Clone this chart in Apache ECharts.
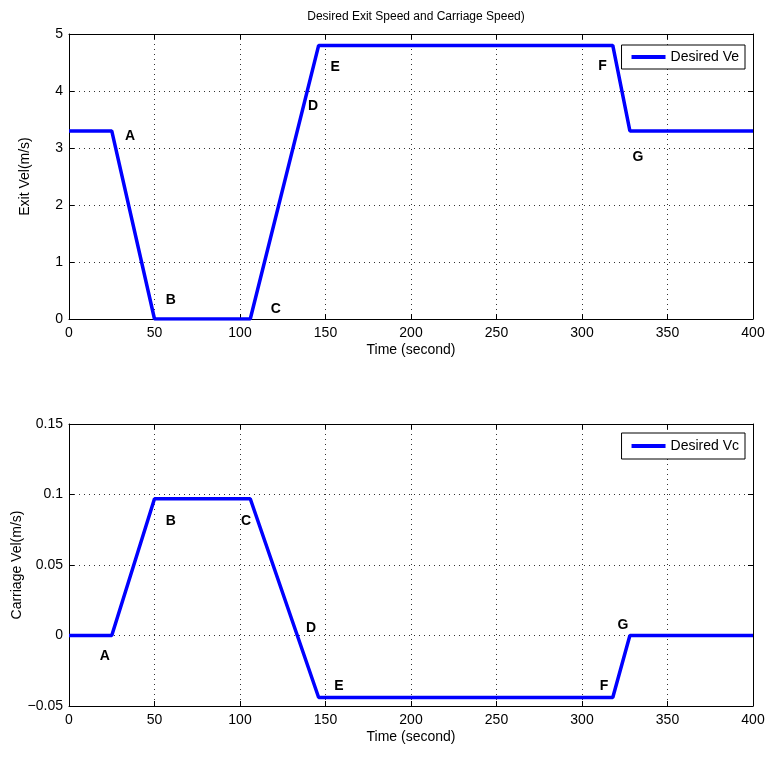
<!DOCTYPE html>
<html>
<head>
<meta charset="utf-8">
<script src="https://cdn.jsdelivr.net/npm/echarts@6/dist/echarts.min.js"></script>
<style>
html, body { margin: 0; padding: 0; background: #fff; }
#main { width: 767px; height: 760px; }
</style>
</head>
<body>
<div id="main"></div>
<script>
// breakpoints of the two speed profiles
var timeTop = [0, 25, 50, 106, 146, 318, 328, 400];
var exitVel = [3.3, 3.3, 0, 0, 4.8, 4.8, 3.3, 3.3];
var timeBottom = [0, 25, 50, 106, 146, 318, 328, 400];
var carriageVel = [0, 0, 0.097, 0.097, -0.044, -0.044, 0, 0];

// point labels
var letters = ['A', 'B', 'C', 'D', 'E', 'F', 'G'];
var topLabelX = [35.7, 59.6, 121, 142.7, 155.6, 312, 332.7];
var topLabelY = [3.2, 0.33, 0.18, 3.74, 4.42, 4.44, 2.84];
var botLabelX = [21, 59.6, 103.5, 141.5, 157.9, 312.9, 324];
var botLabelY = [-0.0149, 0.0814, 0.0814, 0.005, -0.036, -0.036, 0.007];

function pairs(xs, ys) {
    var out = [];
    for (var i = 0; i < xs.length; i++) out.push([xs[i], ys[i]]);
    return out;
}
function labelPoints(xs, ys) {
    var out = [];
    for (var i = 0; i < xs.length; i++) out.push({ value: [xs[i], ys[i]], name: letters[i] });
    return out;
}

var FONT = 'Liberation Sans';
var dotted = { show: true, lineStyle: { color: '#333', type: [1, 4], width: 1 } };

function xAxes(gridIndex) {
    return [
        {
            gridIndex: gridIndex, type: 'value', min: 0, max: 400, interval: 50,
            name: 'Time (second)', nameLocation: 'middle', nameGap: 24, nameMoveOverlap: false,
            nameTextStyle: { color: '#000', fontSize: 14, fontFamily: FONT },
            axisLine: { onZero: false, lineStyle: { color: '#000', width: 1 } },
            axisTick: { inside: true, length: 5, lineStyle: { color: '#000' } },
            axisLabel: { color: '#000', fontSize: 14, fontFamily: FONT, margin: 7 },
            splitLine: dotted
        },
        {
            gridIndex: gridIndex, type: 'value', min: 0, max: 400, interval: 50, position: 'top',
            axisLine: { onZero: false, lineStyle: { color: '#000', width: 1 } },
            axisTick: { inside: true, length: 5, lineStyle: { color: '#000' } },
            axisLabel: { show: false }, splitLine: { show: false }
        }
    ];
}
function yAxes(gridIndex, min, max, interval, name, gap, fmt) {
    return [
        {
            gridIndex: gridIndex, type: 'value', min: min, max: max, interval: interval,
            name: name, nameLocation: 'middle', nameGap: gap, nameMoveOverlap: false,
            nameTextStyle: { color: '#000', fontSize: 14, fontFamily: FONT },
            axisLine: { show: true, onZero: false, lineStyle: { color: '#000', width: 1 } },
            axisTick: { show: true, inside: true, length: 5, lineStyle: { color: '#000' } },
            axisLabel: { color: '#000', fontSize: 14, fontFamily: FONT, margin: 6, formatter: fmt },
            splitLine: dotted
        },
        {
            gridIndex: gridIndex, type: 'value', min: min, max: max, interval: interval, position: 'right',
            axisLine: { show: true, onZero: false, lineStyle: { color: '#000', width: 1 } },
            axisTick: { show: true, inside: true, length: 5, lineStyle: { color: '#000' } },
            axisLabel: { show: false }, splitLine: { show: false }
        }
    ];
}

var letterLabel = {
    show: true, formatter: '{b}', position: 'inside',
    color: '#000', opacity: 1, fontSize: 14, fontWeight: 'bold', fontFamily: FONT
};

var chart = echarts.init(document.getElementById('main'));
chart.setOption({
    animation: false,
    backgroundColor: '#fff',
    title: {
        text: 'Desired Exit Speed and Carriage Speed)',
        left: 411, top: 6, textAlign: 'center',
        textStyle: { color: '#000', fontSize: 12, fontWeight: 'normal', fontFamily: FONT }
    },
    grid: [
        { left: 69, right: 14, top: 34, height: 285, outerBoundsMode: 'none', containLabel: false },
        { left: 69, right: 14, top: 424, height: 282, outerBoundsMode: 'none', containLabel: false }
    ],
    legend: [
        {
            data: ['Desired Ve'], right: 22, top: 45, icon: 'rect',
            backgroundColor: '#fff', borderColor: '#000', borderWidth: 1, borderRadius: 0,
            padding: [5, 6, 5, 10], itemWidth: 34, itemHeight: 4, itemGap: 6,
            textStyle: { color: '#000', fontSize: 14, fontFamily: FONT }
        },
        {
            data: ['Desired Vc'], right: 22, top: 433, icon: 'rect',
            backgroundColor: '#fff', borderColor: '#000', borderWidth: 1, borderRadius: 0,
            padding: [6, 6, 6, 10], itemWidth: 34, itemHeight: 4, itemGap: 6,
            textStyle: { color: '#000', fontSize: 14, fontFamily: FONT }
        }
    ],
    xAxis: xAxes(0).concat(xAxes(1)),
    yAxis: yAxes(0, 0, 5, 1, 'Exit Vel(m/s)', 37, null)
        .concat(yAxes(1, -0.05, 0.15, 0.05, 'Carriage Vel(m/s)', 45, function (v) {
            if (Math.abs(v) < 1e-9) return '0';
            var s = String(Math.round(v * 100) / 100);
            return s.replace('-', '\u2212');
        })),
    series: [
        {
            name: 'Desired Ve', type: 'line', xAxisIndex: 0, yAxisIndex: 0,
            data: pairs(timeTop, exitVel), symbol: 'none',
            lineStyle: { color: '#0000ff', width: 3.5 }, itemStyle: { color: '#0000ff' }
        },
        {
            name: 'Desired Vc', type: 'line', xAxisIndex: 2, yAxisIndex: 2,
            data: pairs(timeBottom, carriageVel), symbol: 'none',
            lineStyle: { color: '#0000ff', width: 3.5 }, itemStyle: { color: '#0000ff' }
        },
        {
            type: 'scatter', xAxisIndex: 0, yAxisIndex: 0, symbolSize: 1,
            itemStyle: { color: 'rgba(0,0,0,0)', opacity: 1 }, label: letterLabel, silent: true,
            data: labelPoints(topLabelX, topLabelY)
        },
        {
            type: 'scatter', xAxisIndex: 2, yAxisIndex: 2, symbolSize: 1,
            itemStyle: { color: 'rgba(0,0,0,0)', opacity: 1 }, label: letterLabel, silent: true,
            data: labelPoints(botLabelX, botLabelY)
        }
    ]
});
</script>
</body>
</html>
